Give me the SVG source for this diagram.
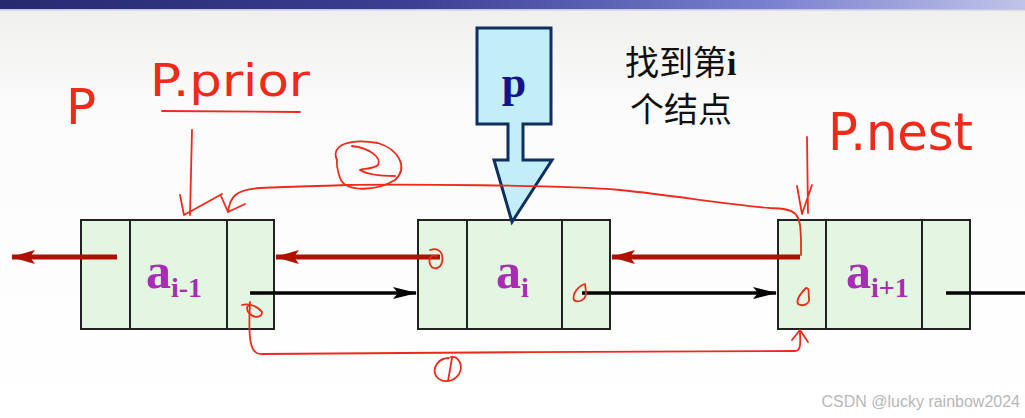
<svg xmlns="http://www.w3.org/2000/svg" width="1025" height="418" viewBox="0 0 1025 418">
<defs>
<linearGradient id="bar" x1="0" y1="0" x2="1" y2="0">
<stop offset="0" stop-color="#262a70"/>
<stop offset="0.4" stop-color="#3a3f92"/>
<stop offset="0.75" stop-color="#7a80d0"/>
<stop offset="1" stop-color="#c0c4e8"/>
</linearGradient>
<linearGradient id="bg" x1="0" y1="0" x2="0" y2="1">
<stop offset="0" stop-color="#eeeeec"/>
<stop offset="0.25" stop-color="#fbfbfb"/>
<stop offset="1" stop-color="#ffffff"/>
</linearGradient>
<marker id="redHead" markerWidth="24" markerHeight="16" refX="23" refY="8" orient="auto" markerUnits="userSpaceOnUse" viewBox="0 0 24 16">
<path d="M0,1 L24,8 L0,15 L5,8 Z" fill="#b01000"/>
</marker>
<marker id="blackHead" markerWidth="24" markerHeight="14" refX="23" refY="7" orient="auto" markerUnits="userSpaceOnUse" viewBox="0 0 24 14">
<path d="M0,1 L24,7 L0,13 L5,7 Z" fill="#000"/>
</marker>
</defs>
<style>
.node rect{fill:#e2f6e2;stroke:#222;stroke-width:2}
.node line{stroke:#222;stroke-width:2}
.lbl{font-family:"Liberation Serif",serif;font-weight:bold;fill:#a82cb4}
.red{stroke:#b01000;stroke-width:5;fill:none}
.blk{stroke:#000;stroke-width:3.5;fill:none}
.hand{fill:none;stroke:#ee2a1a;stroke-width:1.8;stroke-linecap:round;stroke-linejoin:round}
.htxt{font-family:"DejaVu Sans",sans-serif;fill:#ee2a1a}
.cn{font-family:"Noto Sans CJK SC",sans-serif;font-size:34px;fill:#111}
</style>
<rect width="1025" height="418" fill="url(#bg)"/>
<rect x="0" y="0" width="1025" height="9" fill="url(#bar)"/>
<rect x="0" y="9" width="1025" height="1.5" fill="#c8c8e4"/>

<g id="node-prev" class="node">
<rect x="81" y="220" width="193" height="109"/>
<line x1="130" y1="220" x2="130" y2="329"/>
<line x1="227" y1="220" x2="227" y2="329"/>
<text class="lbl" x="146" y="288" font-size="50">a<tspan font-size="28" dy="9">i-1</tspan></text>
</g>
<g id="node-cur" class="node">
<rect x="418" y="220" width="192" height="109"/>
<line x1="467" y1="220" x2="467" y2="329"/>
<line x1="562" y1="220" x2="562" y2="329"/>
<text class="lbl" x="496" y="288" font-size="50">a<tspan font-size="28" dy="9">i</tspan></text>
</g>
<g id="node-next" class="node">
<rect x="778" y="220" width="192" height="109"/>
<line x1="826" y1="220" x2="826" y2="329"/>
<line x1="922" y1="220" x2="922" y2="329"/>
<text class="lbl" x="846" y="288" font-size="50">a<tspan font-size="28" dy="9">i+1</tspan></text>
</g>

<g id="pointer-p">
<path d="M477,28 H551 V124 H523 V160 H552 L512,222 L494,160 H508 V124 H477 Z" fill="#c2eef8" stroke="#0f2f60" stroke-width="3" stroke-linejoin="miter"/>
<text x="514" y="97" text-anchor="middle" font-family="Liberation Serif,serif" font-weight="bold" font-size="44" fill="#14148a">p</text>
</g>

<g id="note">
<text class="cn" x="625" y="75">找到第<tspan font-family="Liberation Serif,serif" font-weight="bold">i</tspan></text>
<text class="cn" x="630" y="122">个结点</text>
</g>

<g id="connectors">
<line class="red" x1="117" y1="257" x2="12" y2="257" marker-end="url(#redHead)"/>
<line class="red" x1="440" y1="257" x2="276" y2="257" marker-end="url(#redHead)"/>
<line class="red" x1="800" y1="257" x2="612" y2="257" marker-end="url(#redHead)"/>
<line class="blk" x1="250" y1="293" x2="416" y2="293" marker-end="url(#blackHead)"/>
<line class="blk" x1="582" y1="293" x2="776" y2="293" marker-end="url(#blackHead)"/>
<line class="blk" x1="946" y1="293" x2="1025" y2="293"/>
</g>

<g id="annotations">
<text class="htxt" x="66" y="124" font-size="50">P</text>
<text class="htxt" x="150" y="96" font-size="44" textLength="160" lengthAdjust="spacingAndGlyphs">P.prior</text>
<path class="hand" d="M162,111 L300,112"/>
<path class="hand" d="M192,130 L190,215 M180,195 L184,215 L222,194"/>
<path class="hand" d="M228,212 L221,196 M228,212 L245,204 M228,212 C230,196 236,190 260,188 C300,186 330,186 345,185 C400,184 560,185 620,190 C680,196 720,204 770,208 C800,208 800,216 801,240 L801,255"/>
<text class="htxt" x="828" y="150" font-size="52" textLength="145" lengthAdjust="spacingAndGlyphs">P.nest</text>
<path class="hand" d="M807,137 L808,213 M797,186 L802,214 L812,185"/>
<path class="hand" d="M337,160 C330,145 350,138 378,143 C400,150 408,168 395,180 C375,192 345,192 340,178 C338,172 336,166 337,160 Z M352,146 C370,148 382,158 378,165 C372,170 362,168 360,170 C368,175 385,176 395,176"/>
<path class="hand" d="M250,302 C248,340 250,355 262,354 C350,352 700,352 795,351 C802,351 800,340 800,332 M792,340 L800,330 L808,342"/>
<path class="hand" d="M449,358 C438,358 432,368 436,376 C442,384 454,382 459,374 C464,365 458,356 451,357 M448,381 L452,358"/>
<path class="hand" d="M430,250 C438,247 444,252 442,262 C440,270 432,270 430,264 C428,258 432,254 436,256"/>
<path class="hand" d="M574,300 C572,294 578,286 585,284 C586,292 588,298 580,301 C576,302 574,300 574,300"/>
<path class="hand" d="M806,288 C800,294 796,300 798,304 C803,307 810,304 809,298 C808,292 810,288 806,288"/>
<path class="hand" d="M242,305 C248,303 258,306 262,312 C262,318 254,318 250,314 C246,310 246,306 250,305"/>
</g>

<text x="1020" y="407" text-anchor="end" font-family="Liberation Sans,Arial,sans-serif" font-size="16" fill="#b8b8b8">CSDN @lucky rainbow2024</text>
</svg>
